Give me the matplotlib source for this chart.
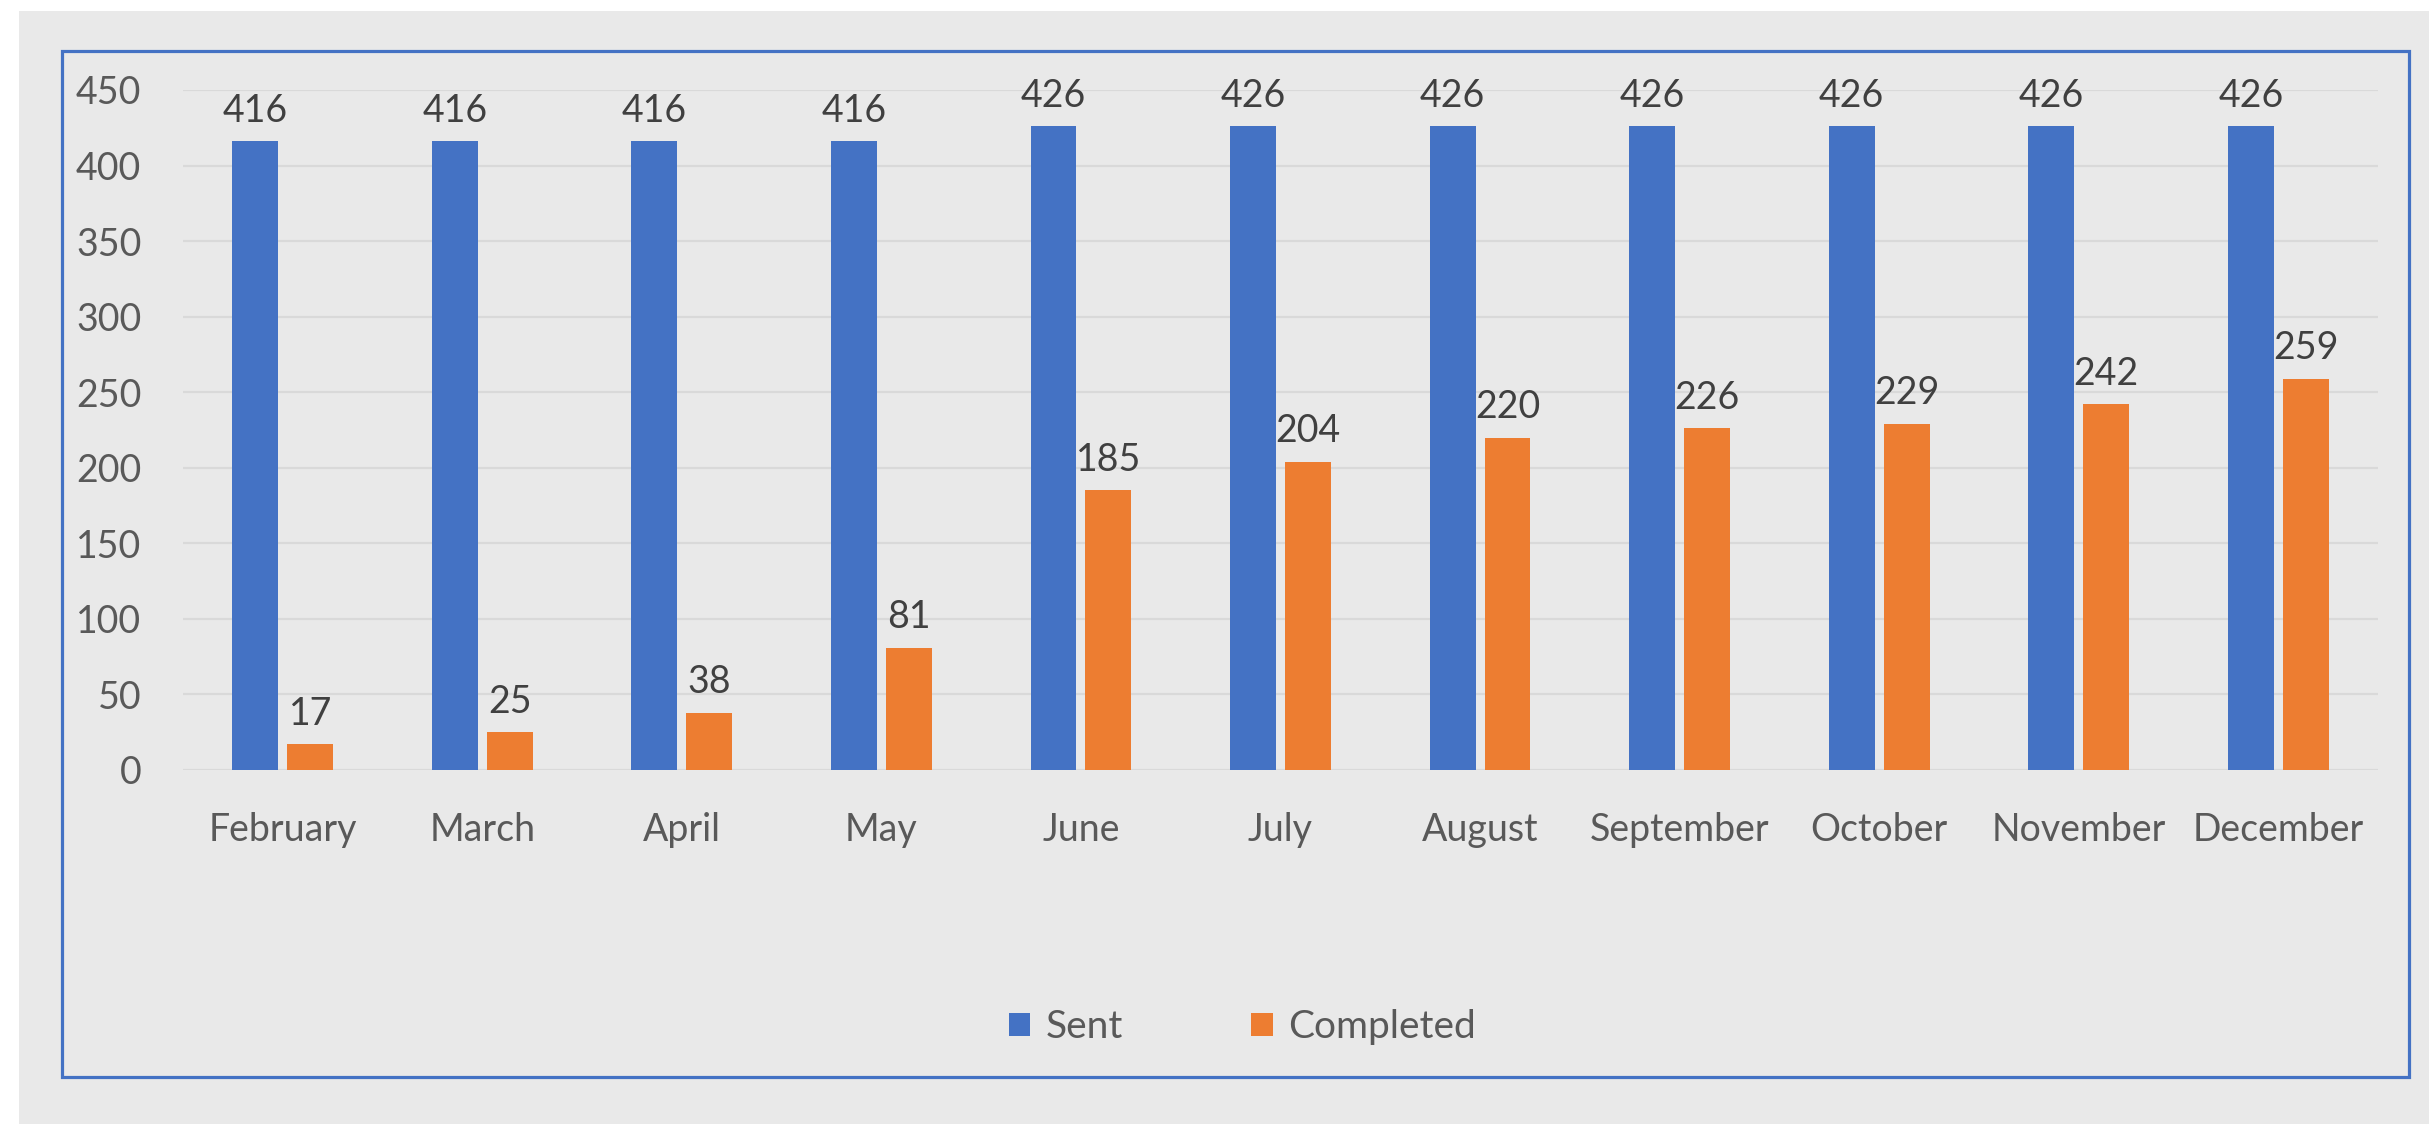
import matplotlib
matplotlib.use("Agg")
import matplotlib.pyplot as plt
from matplotlib.patches import Rectangle
import numpy as np

months = ["February", "March", "April", "May", "June", "July", "August",
          "September", "October", "November", "December"]
sent = [416, 416, 416, 416, 426, 426, 426, 426, 426, 426, 426]
completed = [17, 25, 38, 81, 185, 204, 220, 226, 229, 242, 259]
yticks = [0, 50, 100, 150, 200, 250, 300, 350, 400, 450]

BLUE = "#4472C4"
ORANGE = "#ED7D31"
BG = "#E9E9E9"
GRID = "#D9D9D9"
TICK = "#595959"
LABEL = "#404040"

plt.rcParams['font.family'] = ['Lato', 'DejaVu Sans']

W, H = 2429, 1124
fig = plt.figure(figsize=(W / 100, H / 100), dpi=100)
fig.patch.set_facecolor("white")

# gray background panel
fig.patches.append(Rectangle((19 / W, 0), 1 - 19 / W, 1 - 11 / H,
                             transform=fig.transFigure, facecolor=BG,
                             edgecolor="none", zorder=-5))
# blue border
fig.patches.append(Rectangle((62 / W, 1 - 1077 / H), (2409 - 62) / W, (1077 - 51) / H,
                             transform=fig.transFigure, facecolor="none",
                             edgecolor=BLUE, linewidth=2.3, zorder=-4))

left, right = 183 / W, 2378 / W
bottom, top = 1 - 770 / H, 1 - 90 / H
ax = fig.add_axes([left, bottom, right - left, top - bottom])
ax.set_facecolor("none")
ax.set_zorder(2)

x = np.arange(len(months))
bw = 0.23
gap = 0.045
off = (bw + gap) / 2
b1 = ax.bar(x - off, sent, bw, color=BLUE, label="Sent", zorder=3)
b2 = ax.bar(x + off, completed, bw, color=ORANGE, label="Completed", zorder=3)

FS = 27
for bars in (b1, b2):
    for r in bars:
        ax.annotate(f"{int(r.get_height())}",
                    (r.get_x() + r.get_width() / 2, r.get_height()),
                    xytext=(0, 9), textcoords="offset points",
                    ha="center", va="bottom", fontsize=FS, color=LABEL)

ax.set_xlim(-0.5, len(months) - 0.5)
ax.set_ylim(0, 450)
ax.set_yticks(yticks)
ax.set_xticks(x)
ax.set_xticklabels(months)
ax.tick_params(axis="both", length=0, labelsize=FS, colors=TICK)
ax.tick_params(axis="y", pad=30)
ax.tick_params(axis="x", pad=30)
ax.yaxis.grid(True, color=GRID, linewidth=1.6, zorder=0)
ax.set_axisbelow(True)
for s in ax.spines.values():
    s.set_visible(False)

leg = fig.legend(handles=[b1, b2], labels=["Sent", "Completed"],
                 loc="center", bbox_to_anchor=(0.5115, 1 - 1027 / H),
                 ncol=2, frameon=False, fontsize=28,
                 handlelength=0.55, handleheight=0.55, handletextpad=0.4,
                 columnspacing=3.3, labelcolor=TICK)

fig.savefig("out.png", dpi=100, facecolor=fig.get_facecolor())
